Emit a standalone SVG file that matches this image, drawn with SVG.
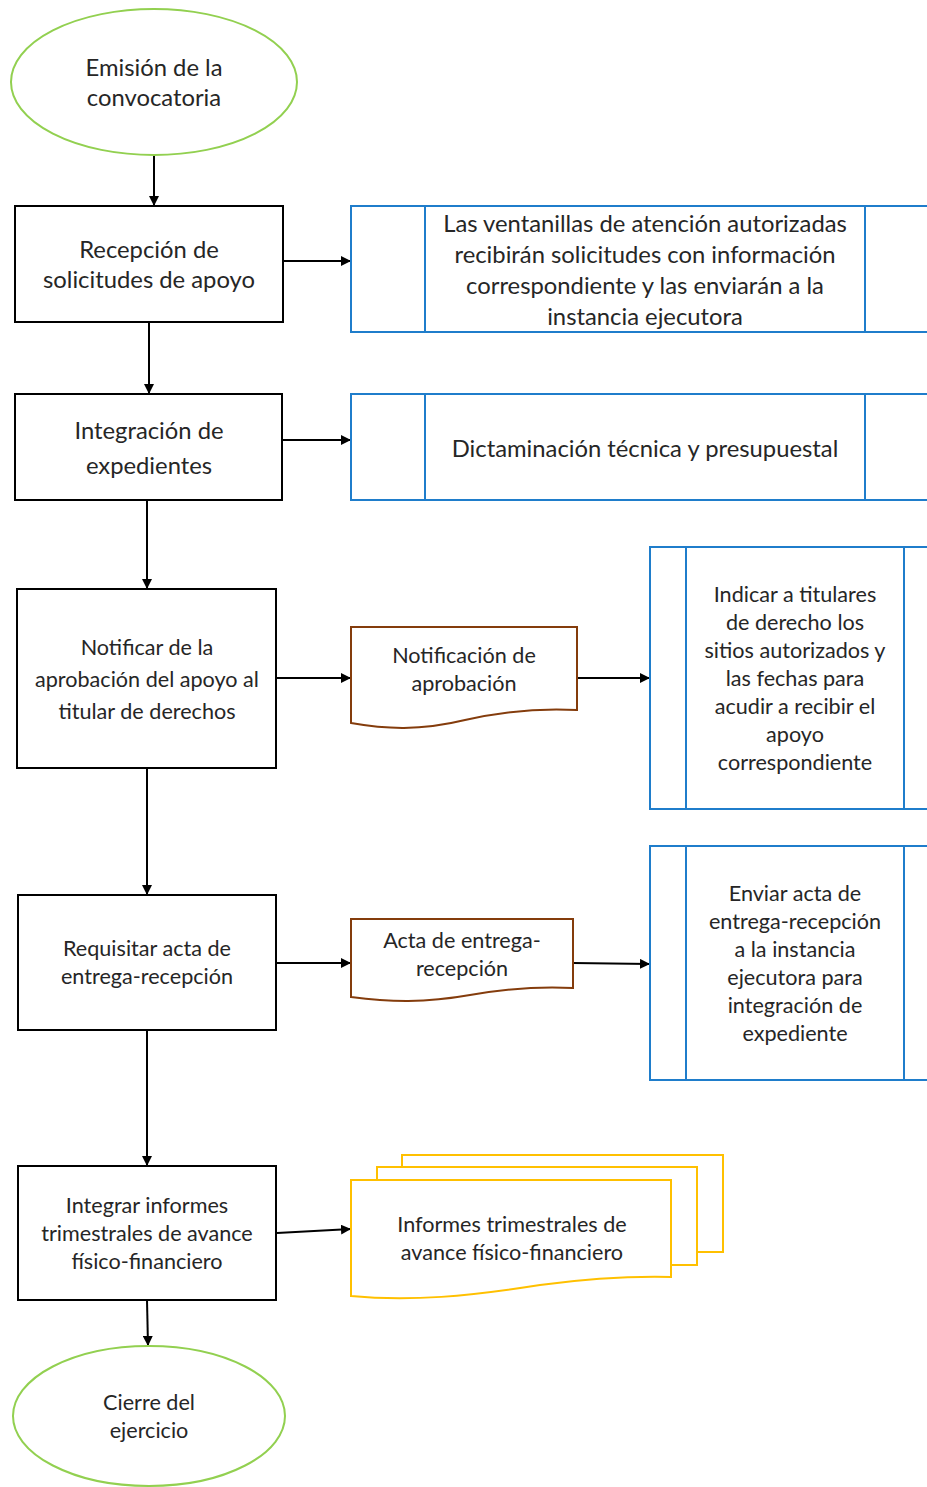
<svg xmlns="http://www.w3.org/2000/svg" width="927" height="1487" viewBox="0 0 927 1487">
<defs>
<marker id="ah" viewBox="0 0 10 10" refX="10" refY="5" markerWidth="10" markerHeight="10" markerUnits="userSpaceOnUse" orient="auto"><path d="M0,0 L10,5 L0,10 Z" fill="#000"/></marker>
<style>
text{font-family:Lato,"Open Sans","Liberation Sans",sans-serif;fill:#262626;text-anchor:middle}
.term{fill:#fff;stroke:#92D050;stroke-width:2}
.proc{fill:#fff;stroke:#000;stroke-width:2}
.pre{fill:#fff;stroke:#1F7DCB;stroke-width:2}
.doc{fill:#fff;stroke:#843C0C;stroke-width:2}
.mdoc{fill:#fff;stroke:#FFC000;stroke-width:2}
.c{stroke:#000;stroke-width:2;fill:none;marker-end:url(#ah)}
.t22{font-size:23.8px}
.t20{font-size:21.6px}
</style>
</defs>
<rect width="927" height="1487" fill="#fff"/>
<g id="connectors">
<line class="c" x1="154" y1="152" x2="154" y2="206"/>
<line class="c" x1="284" y1="261" x2="351" y2="261"/>
<line class="c" x1="149" y1="322" x2="149" y2="394"/>
<line class="c" x1="283" y1="440" x2="351" y2="440"/>
<line class="c" x1="147" y1="500" x2="147" y2="589"/>
<line class="c" x1="277" y1="678" x2="351" y2="678"/>
<line class="c" x1="577" y1="678" x2="650" y2="678"/>
<line class="c" x1="147" y1="768" x2="147" y2="895"/>
<line class="c" x1="277" y1="963" x2="351" y2="963"/>
<line class="c" x1="573" y1="963" x2="650" y2="964"/>
<line class="c" x1="147" y1="1030" x2="147" y2="1166"/>
<line class="c" x1="277" y1="1233" x2="351" y2="1229"/>
<line class="c" x1="147" y1="1300" x2="148" y2="1346"/>
</g>
<g id="n-emision">
<ellipse class="term" cx="154" cy="82" rx="143" ry="73"/>
<text class="t22" x="154" y="76">Emisión de la</text>
<text class="t22" x="154" y="106">convocatoria</text>
</g>
<g id="n-recepcion">
<rect class="proc" x="15" y="206" width="268" height="116"/>
<text class="t22" x="149" y="258">Recepción de</text>
<text class="t22" x="149" y="288">solicitudes de apoyo</text>
</g>
<g id="n-ventanillas">
<rect class="pre" x="351" y="206" width="590" height="126"/>
<line class="pre" x1="425" y1="206" x2="425" y2="332"/>
<line class="pre" x1="865" y1="206" x2="865" y2="332"/>
<text class="t22" x="645" y="232">Las ventanillas de atención autorizadas</text>
<text class="t22" x="645" y="263">recibirán solicitudes con información</text>
<text class="t22" x="645" y="294">correspondiente y las enviarán a la</text>
<text class="t22" x="645" y="325">instancia ejecutora</text>
</g>
<g id="n-integracion">
<rect class="proc" x="15" y="394" width="267" height="106"/>
<text class="t22" x="149" y="439">Integración de</text>
<text class="t22" x="149" y="474">expedientes</text>
</g>
<g id="n-dictaminacion">
<rect class="pre" x="351" y="394" width="590" height="106"/>
<line class="pre" x1="425" y1="394" x2="425" y2="500"/>
<line class="pre" x1="865" y1="394" x2="865" y2="500"/>
<text class="t22" x="645" y="457">Dictaminación técnica y presupuestal</text>
</g>
<g id="n-notificar">
<rect class="proc" x="17" y="589" width="259" height="179"/>
<text class="t20" x="147" y="655">Notificar de la</text>
<text class="t20" x="147" y="687">aprobación del apoyo al</text>
<text class="t20" x="147" y="719">titular de derechos</text>
</g>
<g id="n-doc-notificacion">
<path class="doc" d="M351,627 H577 V710 C540,708 500,712 465,720 C420,731 385,729 351,723 Z"/>
<text class="t20" x="464" y="663">Notificación de</text>
<text class="t20" x="464" y="691">aprobación</text>
</g>
<g id="n-indicar">
<rect class="pre" x="650" y="547" width="290" height="262"/>
<line class="pre" x1="686" y1="547" x2="686" y2="809"/>
<line class="pre" x1="904" y1="547" x2="904" y2="809"/>
<text class="t20" x="795" y="602">Indicar a titulares</text>
<text class="t20" x="795" y="630">de derecho los</text>
<text class="t20" x="795" y="658">sitios autorizados y</text>
<text class="t20" x="795" y="686">las fechas para</text>
<text class="t20" x="795" y="714">acudir a recibir el</text>
<text class="t20" x="795" y="742">apoyo</text>
<text class="t20" x="795" y="770">correspondiente</text>
</g>
<g id="n-requisitar">
<rect class="proc" x="18" y="895" width="258" height="135"/>
<text class="t20" x="147" y="956">Requisitar acta de</text>
<text class="t20" x="147" y="984">entrega-recepción</text>
</g>
<g id="n-doc-acta">
<path class="doc" d="M351,919 H573 V988 C540,986 505,989 470,995 C425,1003 390,1002 351,997 Z"/>
<text class="t20" x="462" y="948">Acta de entrega-</text>
<text class="t20" x="462" y="976">recepción</text>
</g>
<g id="n-enviar">
<rect class="pre" x="650" y="846" width="290" height="234"/>
<line class="pre" x1="686" y1="846" x2="686" y2="1080"/>
<line class="pre" x1="904" y1="846" x2="904" y2="1080"/>
<text class="t20" x="795" y="901">Enviar acta de</text>
<text class="t20" x="795" y="929">entrega-recepción</text>
<text class="t20" x="795" y="957">a la instancia</text>
<text class="t20" x="795" y="985">ejecutora para</text>
<text class="t20" x="795" y="1013">integración de</text>
<text class="t20" x="795" y="1041">expediente</text>
</g>
<g id="n-integrar">
<rect class="proc" x="18" y="1166" width="258" height="134"/>
<text class="t20" x="147" y="1213">Integrar informes</text>
<text class="t20" x="147" y="1241">trimestrales de avance</text>
<text class="t20" x="147" y="1269">físico-financiero</text>
</g>
<g id="n-doc-informes">
<path class="mdoc" d="M402,1167 V1155 H723 V1252 H697 V1167 Z"/>
<path class="mdoc" d="M377,1180 V1167 H697 V1265 H671 V1180 Z"/>
<path class="mdoc" d="M351,1180 H671 V1277 C630,1276 585,1279 540,1285 C470,1296 410,1302 351,1296 Z"/>
<text class="t20" x="512" y="1232">Informes trimestrales de</text>
<text class="t20" x="512" y="1260">avance físico-financiero</text>
</g>
<g id="n-cierre">
<ellipse class="term" cx="149" cy="1416" rx="136" ry="70"/>
<text class="t20" x="149" y="1410">Cierre del</text>
<text class="t20" x="149" y="1438">ejercicio</text>
</g>
</svg>
